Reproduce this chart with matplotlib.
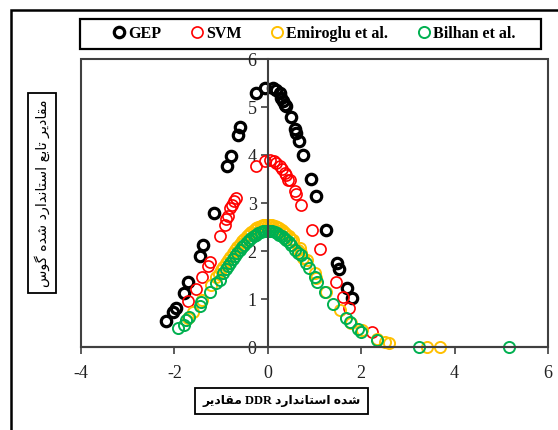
import matplotlib
matplotlib.use('Agg')
import matplotlib.pyplot as plt
from matplotlib.patches import Rectangle

plt.rcParams['axes.unicode_minus'] = False

# ============================== data ==============================
gep_x = [-2.174, -2.032, -1.959, -1.803, -1.711, -1.460, -1.389, -1.153, -0.866, -0.795,
         -0.639, -0.587, -0.244, -0.066, 0.111, 0.184, 0.255, 0.292, 0.326, 0.362,
         0.399, 0.491, 0.577, 0.613, 0.669, 0.755, 0.935, 1.042, 1.241, 1.492,
         1.526, 1.706, 1.805]
gep_y = [0.532, 0.737, 0.808, 1.134, 1.363, 1.900, 2.129, 2.797, 3.764, 3.973,
         4.426, 4.578, 5.296, 5.401, 5.401, 5.351, 5.296, 5.192, 5.121, 5.052,
         5.017, 4.787, 4.551, 4.461, 4.301, 4.008, 3.507, 3.152, 2.443, 1.747,
         1.628, 1.225, 1.017]

svm_x = [-1.711, -1.531, -1.402, -1.282, -1.245, -1.031, -0.924, -0.887, -0.853, -0.802,
         -0.767, -0.731, -0.688, -0.244, -0.066, 0.041, 0.127, 0.169, 0.255, 0.313,
         0.362, 0.399, 0.433, 0.469, 0.577, 0.613, 0.720, 0.947, 1.123, 1.455,
         1.606, 1.734, 2.221]
svm_y = [0.950, 1.205, 1.468, 1.691, 1.781, 2.303, 2.547, 2.666, 2.735, 2.896,
         2.965, 3.033, 3.104, 3.764, 3.868, 3.904, 3.868, 3.835, 3.764, 3.710,
         3.626, 3.591, 3.486, 3.472, 3.242, 3.194, 2.965, 2.443, 2.035, 1.351,
         1.033, 0.818, 0.307]

emi_x = [-1.70, -1.61, -1.40, -1.21, -1.10, -1.05, -1.00, -0.95, -0.90, -0.85,
         -0.80, -0.75, -0.70, -0.65, -0.60, -0.55, -0.50, -0.45, -0.40, -0.35,
         -0.30, -0.25, -0.20, -0.15, -0.10, -0.05, 0.00, 0.05, 0.10, 0.15,
         0.20, 0.25, 0.30, 0.35, 0.40, 0.45, 0.50, 0.54, 0.65, 0.68,
         0.72, 0.755, 0.83, 1.005, 1.03, 1.24, 1.54, 1.79, 2.01, 2.34,
         2.51, 2.60, 3.40, 3.69]
emi_y = [0.60, 0.72, 0.98, 1.30, 1.45, 1.52, 1.60, 1.67, 1.74, 1.81,
         1.88, 1.95, 2.02, 2.08, 2.14, 2.20, 2.26, 2.31, 2.36, 2.40,
         2.44, 2.47, 2.50, 2.52, 2.54, 2.55, 2.55, 2.55, 2.54, 2.52,
         2.50, 2.47, 2.44, 2.40, 2.36, 2.31, 2.26, 2.23, 2.03, 2.06,
         1.96, 1.85, 1.82, 1.54, 1.43, 1.15, 0.77, 0.49, 0.35, 0.16,
         0.11, 0.08, 0.00, 0.00]

bil_x = [-1.925, -1.803, -1.745, -1.689, -1.460, -1.423, -1.245, -1.102, -1.031, -0.960,
         -0.90, -0.85, -0.80, -0.75, -0.70, -0.65, -0.60, -0.55, -0.50, -0.45,
         -0.40, -0.35, -0.30, -0.25, -0.20, -0.15, -0.10, -0.05, 0.00, 0.05,
         0.10, 0.15, 0.20, 0.25, 0.30, 0.35, 0.40, 0.45, 0.50, 0.58,
         0.65, 0.72, 0.812, 0.883, 1.005, 1.055, 1.235, 1.398, 1.67, 1.756,
         1.933, 2.006, 2.341, 3.241, 5.17]
bil_y = [0.39, 0.46, 0.56, 0.62, 0.856, 0.946, 1.155, 1.33, 1.40, 1.54,
         1.62, 1.69, 1.76, 1.83, 1.90, 1.96, 2.02, 2.08, 2.13, 2.18,
         2.23, 2.27, 2.31, 2.34, 2.37, 2.39, 2.41, 2.42, 2.42, 2.42,
         2.41, 2.39, 2.37, 2.34, 2.31, 2.27, 2.23, 2.18, 2.13, 2.03,
         1.96, 1.92, 1.75, 1.64, 1.455, 1.36, 1.14, 0.89, 0.60, 0.53,
         0.37, 0.32, 0.146, 0.006, 0.0]

series_names = ['GEP', 'SVM', 'Emiroglu et al.', 'Bilhan et al.']
x_ticks = [-4, -2, 0, 2, 4, 6]
y_ticks = [0, 1, 2, 3, 4, 5, 6]

# ========================= farsi shaping ==========================
# isolated, final, initial, medial
FORMS = {
    'ا': ('\uFE8D', '\uFE8E', None, None),
    'ب': ('\uFE8F', '\uFE90', '\uFE91', '\uFE92'),
    'ت': ('\uFE95', '\uFE96', '\uFE97', '\uFE98'),
    'د': ('\uFEA9', '\uFEAA', None, None),
    'ر': ('\uFEAD', '\uFEAE', None, None),
    'س': ('\uFEB1', '\uFEB2', '\uFEB3', '\uFEB4'),
    'ش': ('\uFEB5', '\uFEB6', '\uFEB7', '\uFEB8'),
    'ع': ('\uFEC9', '\uFECA', '\uFECB', '\uFECC'),
    'ق': ('\uFED5', '\uFED6', '\uFED7', '\uFED8'),
    'م': ('\uFEE1', '\uFEE2', '\uFEE3', '\uFEE4'),
    'ن': ('\uFEE5', '\uFEE6', '\uFEE7', '\uFEE8'),
    'ه': ('\uFEE9', '\uFEEA', '\uFEEB', '\uFEEC'),
    'و': ('\uFEED', '\uFEEE', None, None),
    'ی': ('\uFBFC', '\uFBFD', '\uFBFE', '\uFBFF'),
    'گ': ('\uFB92', '\uFB93', '\uFB94', '\uFB95'),
}


def vis(word):
    out = []
    for i, c in enumerate(word):
        f = FORMS[c]
        prev = FORMS[word[i - 1]][2] is not None if i > 0 else False
        nxt = f[2] is not None and i < len(word) - 1
        if prev and nxt:
            out.append(f[3])
        elif prev:
            out.append(f[1])
        elif nxt:
            out.append(f[2])
        else:
            out.append(f[0])
    return ''.join(out[::-1])


ylabel = ' '.join(vis(w) for w in reversed('مقادیر تابع استاندارد شده گوس'.split()))
xlabel = vis('مقادیر') + ' DDR ' + vis('استاندارد') + ' ' + vis('شده')

# ============================== plot ==============================
fig = plt.figure(figsize=(5.58, 4.30), dpi=100)
ax = fig.add_axes([81 / 558, 1 - 347 / 430, 467 / 558, 288 / 430])

gray = '#404040'
h1, = ax.plot(gep_x, gep_y, 'o', mfc='none', mec='black', ms=7.5, mew=2.3, label=series_names[0])
h2, = ax.plot(svm_x, svm_y, 'o', mfc='none', mec='#FF0000', ms=8, mew=1.2, label=series_names[1])
h3, = ax.plot(emi_x, emi_y, 'o', mfc='none', mec='#FFC000', ms=8, mew=1.4, label=series_names[2])
h4, = ax.plot(bil_x, bil_y, 'o', mfc='none', mec='#00B050', ms=8, mew=1.4, label=series_names[3])
for h in (h1, h2, h3, h4):
    h.set_clip_on(False)

ax.set_xlim(-4, 6)
ax.set_ylim(0, 6)
ax.set_xticks(x_ticks)
ax.set_yticks(y_ticks)
ax.spines['left'].set_position(('data', 0))
for s in ax.spines.values():
    s.set_color(gray)
    s.set_linewidth(1.5)
ax.spines['top'].set_visible(False)
ax.spines['right'].set_visible(False)
ax.add_patch(Rectangle((0, 0), 1, 1, transform=ax.transAxes, fill=False,
                       ec=gray, lw=1.5, clip_on=False, zorder=0))
ax.tick_params(direction='out', length=5, width=1.2, color=gray,
               labelsize=13, labelcolor='#222222')
for lab in ax.get_xticklabels() + ax.get_yticklabels():
    lab.set_family('Liberation Serif')
ax.tick_params(axis='x', pad=8)
ax.tick_params(axis='y', pad=3)

# axis titles in boxes
box = dict(boxstyle='square,pad=0.45', fc='white', ec='black', lw=1.3)
fig.text(42 / 558, 1 - 193 / 430, ylabel, rotation=90, ha='center', va='center',
         fontsize=10.3, family=['DejaVu Sans'], bbox=box)
box2 = dict(boxstyle='square,pad=0.6', fc='white', ec='black', lw=1.3)
fig.text(281.5 / 558, 1 - 401 / 430, xlabel, ha='center', va='center',
         fontsize=8.9, fontweight='bold', family=['Liberation Serif', 'DejaVu Sans'],
         bbox=box2)

# legend: box drawn separately so its width matches
fig.patches.append(Rectangle((80 / 558, 1 - 49 / 430), 461 / 558, 30 / 430,
                             transform=fig.transFigure, fill=False, ec='black', lw=1.6))
leg = fig.legend(handles=[h1, h2, h3, h4], loc='center',
                 bbox_to_anchor=(315 / 558, 1 - 34 / 430),
                 ncol=4, frameon=False, handlelength=0.6, handletextpad=0.25,
                 borderpad=0.2, columnspacing=1.95,
                 prop=dict(family='Liberation Serif', weight='bold', size=11.5))

# outer border of the chart area
fig.patches.append(Rectangle((11 / 558, -0.5), 2, 0.5 + 1 - 10 / 430,
                             transform=fig.transFigure, fill=False, ec='black', lw=1.8))

fig.savefig('out.png', dpi=100)
